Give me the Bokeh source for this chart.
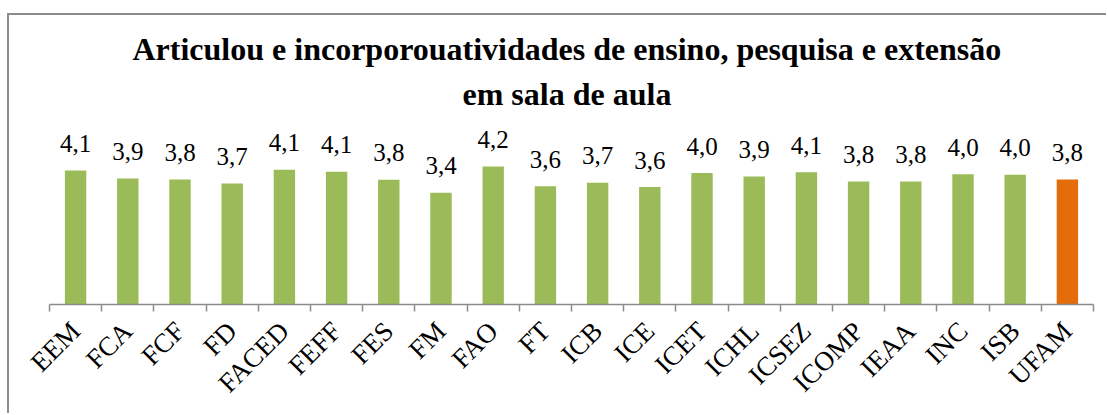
import math
from bokeh.plotting import figure
from bokeh.models import (Range1d, LinearAxis, FixedTicker, ColumnDataSource, Title)
from bokeh.core.properties import value
from bokeh.embed import file_html
from bokeh.resources import INLINE

categories = ["EEM", "FCA", "FCF", "FD", "FACED", "FEFF", "FES", "FM", "FAO", "FT",
              "ICB", "ICE", "ICET", "ICHL", "ICSEZ", "ICOMP", "IEAA", "INC", "ISB", "UFAM"]
values = [4.12, 3.87, 3.84, 3.72, 4.14, 4.08, 3.83, 3.43, 4.24, 3.63,
          3.74, 3.61, 4.04, 3.93, 4.06, 3.78, 3.78, 4.00, 3.99, 3.84]
title_lines = ["Articulou e incorporouatividades de ensino, pesquisa e extensão",
               "em sala de aula"]

GREEN = "#9BBB59"
ORANGE = "#E46C0A"
GRAY = "#8C8C8C"
SERIF = "Liberation Serif"

n = len(categories)
xs = [i + 0.5 for i in range(n)]
labels = [f"{v:.1f}".replace(".", ",") for v in values]
colors = [ORANGE if c == "UFAM" else GREEN for c in categories]
src = ColumnDataSource(dict(x=xs, cat=categories, val=values, label=labels, color=colors))

p = figure(x_range=Range1d(0, n), y_range=Range1d(0, 5.93),
           width=1099, height=400, output_backend="svg", toolbar_location=None,
           x_axis_location=None, y_axis_location=None,
           min_border_left=40, min_border_right=15, min_border_top=96, min_border_bottom=111)
p.margin = (13, 0, 0, 7)
p.styles = {"border-top": f"2px solid {GRAY}", "border-left": f"2px solid {GRAY}"}
p.outline_line_color = None
p.xgrid.visible = False
p.ygrid.visible = False
p.background_fill_color = "white"
p.border_fill_color = "white"

p.vbar(x="x", top="val", width=0.41, source=src, fill_color="color", line_color=None)

p.text(x="x", y="val", text="label", source=src, text_align="center",
       text_baseline="alphabetic", y_offset=-27,
       text_font=value(SERIF), text_font_size="25px", text_color="black")

cat_axis = LinearAxis(ticker=FixedTicker(ticks=xs, minor_ticks=list(range(n + 1))),
                      major_label_overrides={x: c for x, c in zip(xs, categories)},
                      axis_line_color=GRAY, axis_line_width=1.5,
                      major_tick_line_color=None,
                      minor_tick_line_color=GRAY, minor_tick_line_width=1.5,
                      minor_tick_in=0, minor_tick_out=7,
                      major_label_orientation=math.pi / 4,
                      major_label_text_font=SERIF, major_label_text_font_size="27px",
                      major_label_text_color="black", major_label_standoff=15)
p.add_layout(cat_axis, "below")

p.title = Title(text=title_lines[0], align="left", offset=83, text_font=SERIF,
                text_font_size="32px", text_font_style="bold", text_color="black",
                standoff=13)
p.add_layout(Title(text=title_lines[1], align="left", offset=413, text_font=SERIF,
                   text_font_size="32px", text_font_style="bold", text_color="black",
                   standoff=0), "above")

with open("out.html", "w") as f:
    f.write(file_html(p, INLINE))
